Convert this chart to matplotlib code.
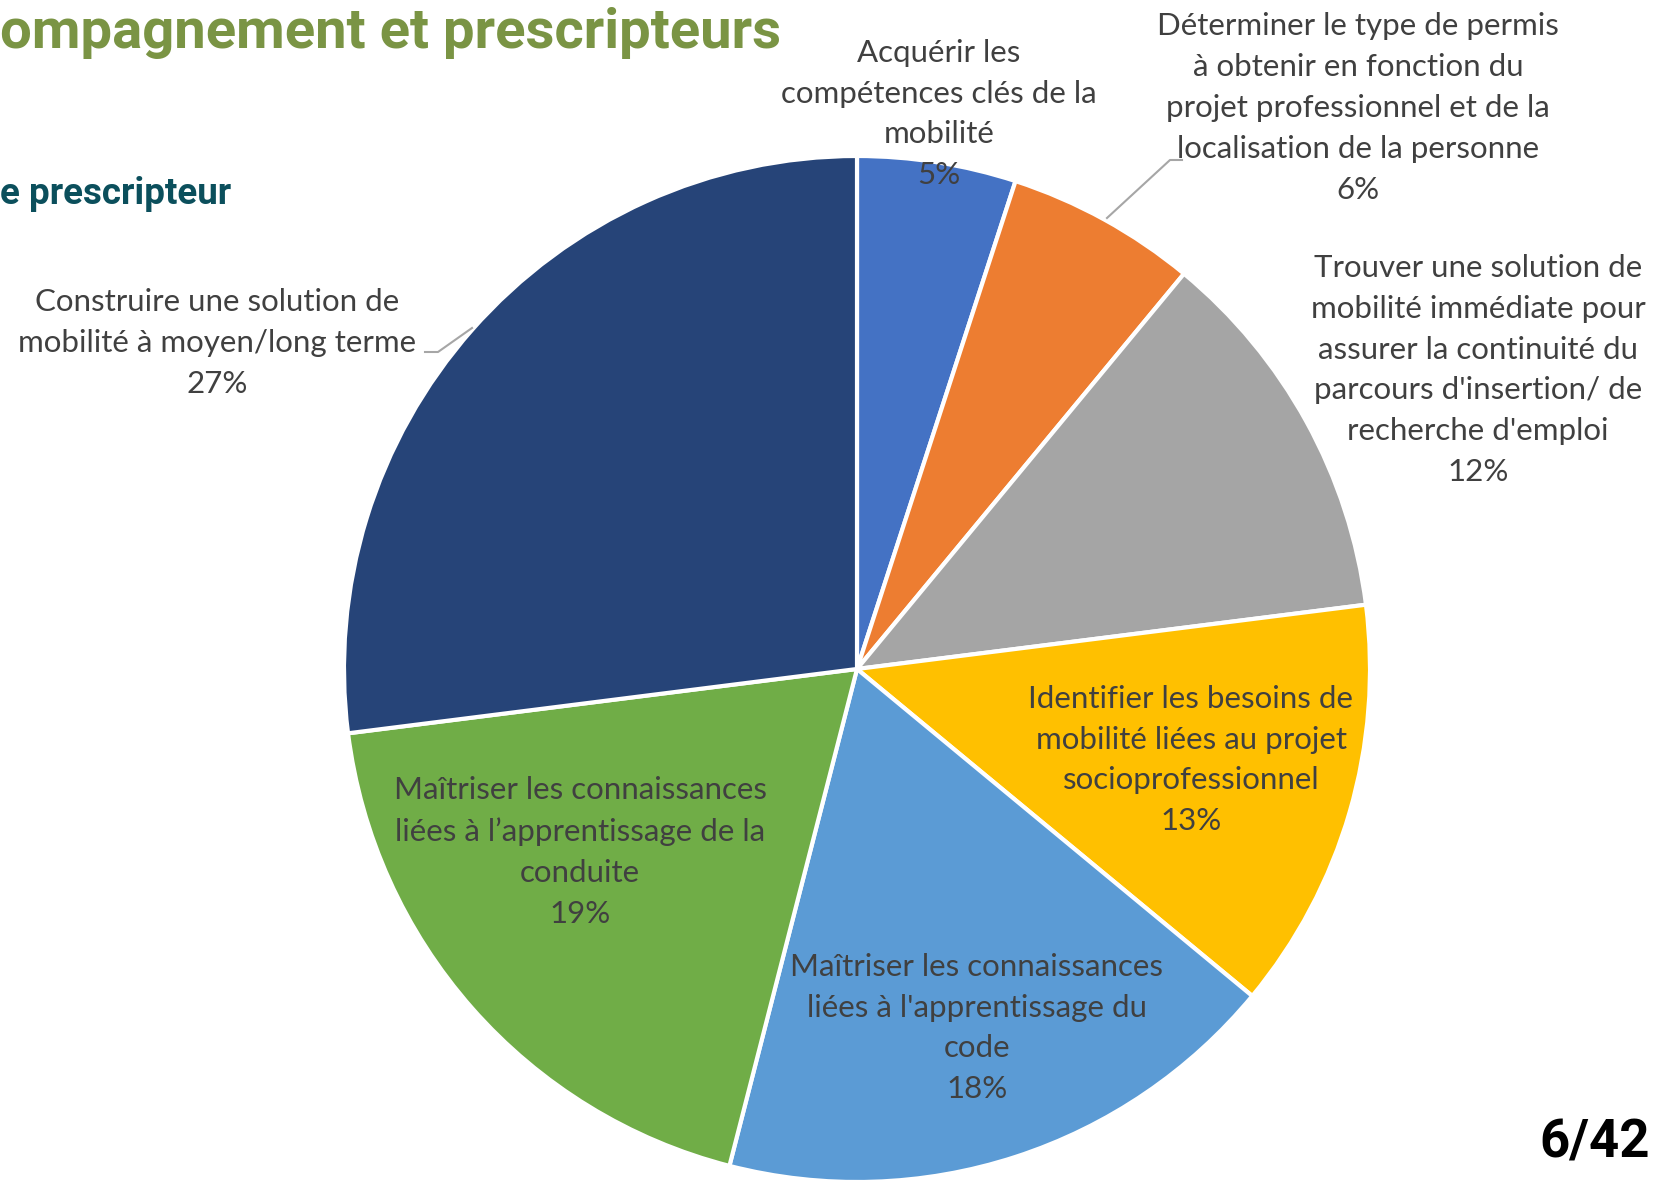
import matplotlib
matplotlib.use("Agg")
import matplotlib.pyplot as plt

W, H = 1655, 1181

# --- donnees ---
categories = [
    "Acquérir les\ncompétences clés de la\nmobilité",
    "Déterminer le type de permis\nà obtenir en fonction du\nprojet professionnel et de la\nlocalisation de la personne",
    "Trouver une solution de\nmobilité immédiate pour\nassurer la continuité du\nparcours d'insertion/ de\nrecherche d'emploi",
    "Identifier les besoins de\nmobilité liées au projet\nsocioprofessionnel",
    "Maîtriser les connaissances\nliées à l'apprentissage du\ncode",
    "Maîtriser les connaissances\nliées à l’apprentissage de la\nconduite",
    "Construire une solution de\nmobilité à moyen/long terme",
]
valeurs = [5, 6, 12, 13, 18, 19, 27]
couleurs = ["#4472C4", "#ED7D31", "#A5A5A5", "#FFC000", "#5B9BD5", "#70AD47", "#264478"]

# position (pixels, origine en haut a gauche) du centre de chaque etiquette
pos_labels = [(939, 114), (1358, 108), (1478, 370), (1191, 760), (977, 1028), (580, 852), (217, 343)]

TXT = "#404040"
FONT = "Lato"


def px(x, y):
    return x, H - y


fig = plt.figure(figsize=(W / 100, H / 100), dpi=100)
ax = fig.add_axes([0, 0, 1, 1])

ax.pie(valeurs, colors=couleurs, startangle=90, counterclock=False,
       center=px(857, 669), radius=513,
       wedgeprops=dict(edgecolor="white", linewidth=3))
ax.set_xlim(0, W)
ax.set_ylim(0, H)
ax.set_aspect("equal")
ax.axis("off")

for cat, v, (x, y) in zip(categories, valeurs, pos_labels):
    ax.text(*px(x, y), f"{cat}\n{v}%", ha="center", va="center",
            fontsize=22.5, color=TXT, family=FONT, linespacing=1.56)

# lignes de rappel
ax.plot([1107, 1170, 1182], [H - 218, H - 160, H - 160], color="#A6A6A6", lw=1.5)
ax.plot([425, 438, 472], [H - 352, H - 352, H - 328], color="#A6A6A6", lw=1.5)

# textes de la page
ax.text(*px(0, 33), "ompagnement et prescripteurs", ha="left", va="center",
        fontsize=40.5, fontweight="bold", color="#7A9444", family="Roboto")
ax.text(*px(0, 194), "e prescripteur", ha="left", va="center",
        fontsize=26.5, fontweight="bold", color="#0B4F5C", family="Roboto")
ax.text(*px(1650, 1143), "6/42", ha="right", va="center",
        fontsize=38, fontweight="bold", color="black", family="Roboto")

fig.savefig("out.png", dpi=100)
